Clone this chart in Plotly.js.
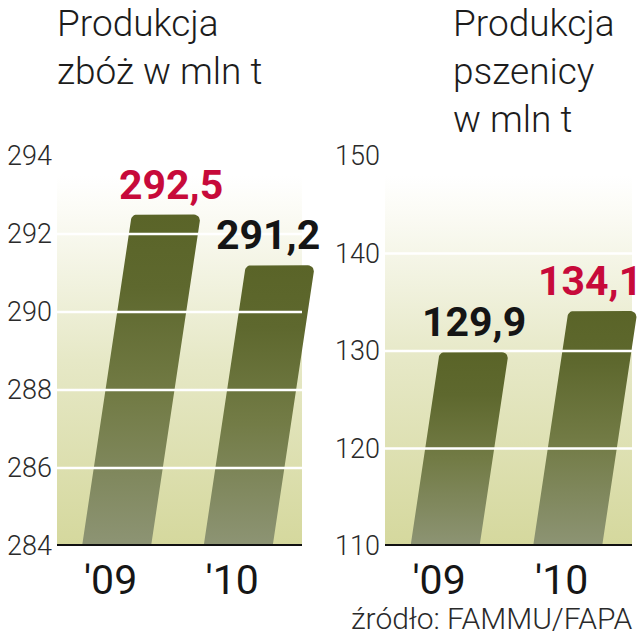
<!DOCTYPE html>
<html><head><meta charset="utf-8">
<script src="https://cdn.plot.ly/plotly-3.0.1.min.js"></script>
<style>html,body{margin:0;padding:0;background:#fff}</style>
</head><body><div id="chart" style="width:644px;height:640px"></div>
<script>
// ---- data ----
const years = ["'09", "'10"];
const grainValues = [292.5, 291.2];
const grainLabels = ["292,5", "291,2"];
const grainTicks = [284, 286, 288, 290, 292, 294];
const wheatValues = [129.9, 134.1];
const wheatLabels = ["129,9", "134,1"];
const wheatTicks = [110, 120, 130, 140, 150];
const grainTitle = "Produkcja<br>zbóż w mln t";
const wheatTitle = "Produkcja<br>pszenicy<br>w mln t";
const sourceText = "źródło: FAMMU/FAPA";
const grainRed = [true, false];
const wheatRed = [false, true];

// ---- geometry / style ----
const W = 644, H = 640;
const X_LO = -0.49, X_HI = 1.525;          // visible panel span in category units
const yDom = [94 / H, 484 / H];
const panels = [
  {vals: grainValues, labels: grainLabels, ticks: grainTicks, red: grainRed, px: [57, 302], pxEnd: 326, xa: 'x', ya: 'y', shift: [5, -12]},
  {vals: wheatValues, labels: wheatLabels, ticks: wheatTicks, red: wheatRed, px: [385, 632], pxEnd: 644, xa: 'x2', ya: 'y2', shift: [0, -13]}
];
const SLANT = 0.15;      // px horizontal per px vertical
const HALFW = 34.5;      // px
const RAD = 6;           // px corner radius
const TICK_SHIFT = -6;   // px, visual offset of year labels
const RED = '#c70a3a', BLACK = '#151515';
const barScale = [[0, '#8d9474'], [0.45, '#727b45'], [0.78, '#5e682e'], [1, '#5a6428']];
const bgScale = [[0, '#d5d89d'], [0.5, '#e6e8c6'], [0.9, '#fbfbf5'], [1, '#ffffff']];

const traces = [], shapes = [], annotations = [];
const layout = {
  width: W, height: H, margin: {l: 0, r: 0, t: 0, b: 0},
  paper_bgcolor: '#fff', plot_bgcolor: 'rgba(0,0,0,0)', showlegend: false,
  font: {family: 'Roboto, sans-serif'}
};

panels.forEach((p, k) => {
  const y0 = p.ticks[0], y1 = p.ticks[p.ticks.length - 1];
  const pxX = (p.px[1] - p.px[0]) / (X_HI - X_LO);
  const xEnd = X_LO + (p.pxEnd - p.px[0]) / pxX;
  const plotH = (yDom[1] - yDom[0]) * H;
  const pxY = plotH / (y1 - y0);
  const sfx = k === 0 ? '' : '2';
  layout['xaxis' + sfx] = {
    domain: [p.px[0] / W, p.pxEnd / W], range: [X_LO, xEnd], anchor: p.ya,
    tickvals: years.map((_, i) => i + TICK_SHIFT / pxX), ticktext: years,
    showgrid: false, zeroline: false, showline: false, ticks: '', ticklabelstandoff: 6,
    tickfont: {family: 'Roboto, sans-serif', size: 41, color: '#161616'}, fixedrange: true
  };
  layout['yaxis' + sfx] = {
    domain: yDom, range: [y0, y1], anchor: p.xa, tickvals: p.ticks, ticktext: p.ticks.map(String),
    showgrid: false, zeroline: false, showline: false, ticks: '', ticklabelstandoff: 4,
    tickfont: {family: 'Roboto, sans-serif', weight: 300, size: 27, color: '#2a2a2a'}, fixedrange: true
  };
  // background gradient (panel area only)
  traces.push({
    type: 'scatter', mode: 'lines', xaxis: p.xa, yaxis: p.ya,
    x: [X_LO, X_HI, X_HI, X_LO, X_LO],
    y: [y0, y0, y1, y1, y0], fill: 'toself', line: {width: 0},
    fillgradient: {type: 'vertical', colorscale: bgScale, start: y0, stop: y1 - (y1 - y0) * 0.05},
    hoverinfo: 'skip'
  });
  // slanted bars
  p.vals.forEach((v, i) => {
    const Hp = (v - y0) * pxY;
    const pts = [];
    pts.push([-HALFW, 0]);
    pts.push([HALFW, 0]);
    const cR = [HALFW + SLANT * (Hp - RAD) - RAD, Hp - RAD];
    for (let a = 0; a <= 90; a += 15) {
      const t = a * Math.PI / 180;
      pts.push([cR[0] + RAD * Math.cos(t), cR[1] + RAD * Math.sin(t)]);
    }
    const cL = [-HALFW + SLANT * (Hp - RAD) + RAD, Hp - RAD];
    for (let a = 90; a <= 180; a += 15) {
      const t = a * Math.PI / 180;
      pts.push([cL[0] + RAD * Math.cos(t), cL[1] + RAD * Math.sin(t)]);
    }
    pts.push([-HALFW, 0]);
    traces.push({
      type: 'scatter', mode: 'lines', xaxis: p.xa, yaxis: p.ya,
      x: pts.map(q => i + q[0] / pxX), y: pts.map(q => y0 + q[1] / pxY),
      fill: 'toself', line: {width: 0},
      fillgradient: {type: 'vertical', colorscale: barScale},
      hoverinfo: 'skip'
    });
    annotations.push({
      xref: p.xa, yref: p.ya, x: i + SLANT * Hp / pxX, y: v, xanchor: 'center', yanchor: 'bottom',
      yshift: 4, xshift: p.shift[i], showarrow: false, text: p.labels[i],
      font: {family: 'Roboto, sans-serif', weight: 700, size: 41, color: p.red[i] ? RED : BLACK}
    });
  });
  // white gridlines over bars
  p.ticks.slice(1, -1).forEach(t => {
    shapes.push({type: 'line', layer: 'above', xref: p.xa, yref: p.ya, x0: X_LO, x1: X_HI, y0: t, y1: t,
      line: {color: '#ffffff', width: 2.5}});
  });
  // baseline
  shapes.push({type: 'line', layer: 'above', xref: p.xa, yref: p.ya, x0: X_LO, x1: X_HI, y0: y0, y1: y0,
    line: {color: '#111111', width: 4}});
});

annotations.push({xref: 'paper', yref: 'paper', x: 55 / W, y: 1, xanchor: 'left', yanchor: 'top', align: 'left',
  showarrow: false, text: grainTitle, font: {family: 'Roboto, sans-serif', weight: 300, size: 37, color: '#1c1c1c'}});
annotations.push({xref: 'paper', yref: 'paper', x: 451 / W, y: 1, xanchor: 'left', yanchor: 'top', align: 'left',
  showarrow: false, text: wheatTitle, font: {family: 'Roboto, sans-serif', weight: 300, size: 37, color: '#1c1c1c'}});
annotations.push({xref: 'paper', yref: 'paper', x: 634 / W, y: 1 - 618 / H, xanchor: 'right', yanchor: 'middle',
  showarrow: false, text: sourceText, font: {family: 'Roboto, sans-serif', weight: 300, size: 30, color: '#2a2a2a'}});

layout.shapes = shapes;
layout.annotations = annotations;
Plotly.newPlot('chart', traces, layout, {displayModeBar: false, staticPlot: true});
</script></body></html>
